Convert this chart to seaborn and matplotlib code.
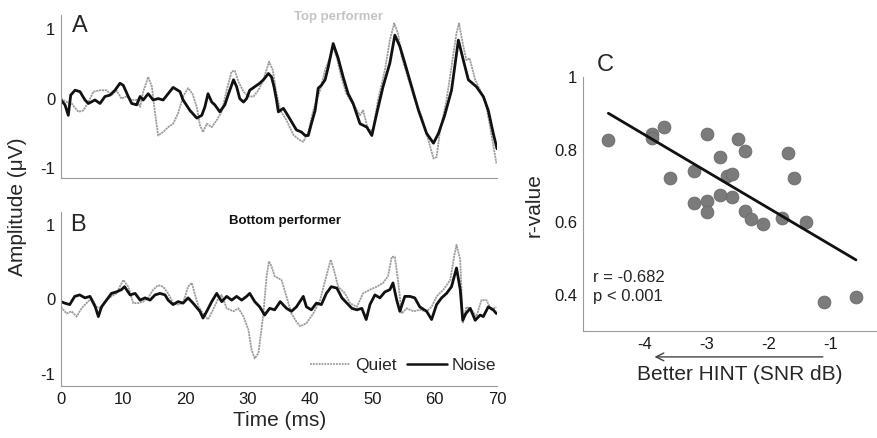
import numpy as np
import pandas as pd
import matplotlib
matplotlib.use("Agg")
import matplotlib.pyplot as plt
from matplotlib.lines import Line2D
import seaborn as sns

# ---------------- data ----------------
# Panel A (top performer) - noise (black)
a_noise_t = [0, 0.64, 1.17, 1.56, 2.25, 3.05, 3.85, 4.4, 5.46, 6.26, 7.06, 7.87, 8.67, 9.47, 10.0,
             10.8, 11.35, 12.15, 12.7, 13.2, 14.0, 14.8, 15.6, 16.4, 17.2, 18.0, 19.1, 19.6, 20.7,
             21.8, 22.6, 23.1, 23.6, 24.2, 24.7, 25.5, 26.3, 26.9, 27.7, 28.2, 28.7, 29.3, 29.8,
             30.3, 31.1, 31.9, 32.5, 33.3, 33.8, 34.2, 34.6, 34.9, 35.7, 36.2, 37.0, 37.8, 38.6,
             39.2, 39.7, 40.2, 40.8, 41.3, 41.8, 42.4, 42.9, 43.7, 44.5, 45.3, 46.1, 46.9, 48.0,
             49.1, 49.9, 50.7, 51.7, 52.8, 53.6, 54.4, 55.2, 56.3, 57.4, 58.7, 59.8, 60.6, 61.6,
             62.7, 63.8, 64.6, 65.4, 66.7, 67.8, 68.6, 69.4, 70.0]
a_noise_v = [-0.02, -0.09, -0.24, 0.05, 0.12, 0.10, -0.02, -0.07, -0.02, -0.07, 0.03, 0.05, 0.12, 0.22,
             0.19, 0.03, -0.07, -0.09, 0.03, -0.02, 0.07, -0.02, 0.0, -0.02, 0.07, 0.16, 0.10, -0.02,
             -0.17, -0.28, -0.24, -0.12, 0.07, -0.05, -0.09, -0.19, -0.09, 0.07, 0.27, 0.17, 0.0,
             -0.05, 0.0, 0.12, 0.17, 0.22, 0.27, 0.36, 0.31, 0.17, -0.02, -0.19, -0.14, -0.21, -0.33,
             -0.45, -0.48, -0.53, -0.53, -0.36, -0.17, 0.15, 0.19, 0.27, 0.45, 0.79, 0.58, 0.31,
             0.07, -0.07, -0.36, -0.41, -0.53, -0.21, 0.17, 0.51, 0.91, 0.75, 0.51, 0.17, -0.17,
             -0.50, -0.64, -0.50, -0.24, 0.12, 0.84, 0.55, 0.27, 0.17, 0.03, -0.17, -0.50, -0.72]

# Panel A - quiet (grey)
a_quiet_t = [0, 0.9, 1.7, 2.8, 3.6, 4.4, 5.2, 6.3, 7.3, 8.1, 8.9, 9.7, 10.5, 11.35, 12.15, 12.7, 13.2,
             14.0, 14.6, 15.1, 15.6, 16.4, 17.2, 18.0, 18.8, 19.6, 20.4, 21.1, 21.8, 22.3, 22.8, 23.4,
             24.2, 25.0, 25.8, 26.6, 27.4, 27.9, 28.5, 29.3, 30.1, 30.9, 31.7, 32.5, 33.4, 34.0, 34.5,
             35.2, 36.2, 37.3, 38.4, 38.9, 39.7, 40.5, 41.6, 42.4, 43.2, 43.7, 44.3, 45.0, 45.8,
             47.2, 48.0, 48.5, 49.3, 50.1, 50.9, 52.0, 52.8, 53.5, 54.1, 54.7, 55.8, 56.8, 57.9,
             59.0, 59.8, 60.3, 60.8, 61.9, 62.7, 63.5, 63.9, 64.5, 65.1, 65.6, 66.5, 67.3, 68.1,
             68.9, 69.9]
a_quiet_v = [0.0, -0.05, -0.07, -0.19, -0.17, -0.05, 0.10, 0.12, 0.12, 0.05, 0.12, 0.0, 0.03, -0.02,
             -0.02, -0.12, 0.10, 0.31, 0.17, -0.21, -0.53, -0.48, -0.41, -0.36, -0.21, 0.03, 0.15,
             0.07, -0.12, -0.38, -0.48, -0.36, -0.41, -0.31, -0.19, 0.12, 0.39, 0.40, 0.24, 0.10,
             0.03, 0.03, 0.12, 0.27, 0.53, 0.41, 0.12, -0.17, -0.31, -0.52, -0.60, -0.62, -0.48,
             -0.17, 0.12, 0.41, 0.60, 0.75, 0.58, 0.31, 0.07, -0.12, -0.24, -0.17, -0.45, -0.45,
             -0.02, 0.41, 0.84, 1.08, 0.94, 0.60, 0.27, -0.02, -0.26, -0.60, -0.86, -0.84, -0.50,
             -0.02, 0.46, 0.94, 1.08, 0.79, 0.55, 0.58, 0.27, 0.12, -0.02, -0.41, -0.93]

# Panel B (bottom performer) - noise (black)
b_noise_t = [0, 0.6, 1.4, 2.2, 3.0, 3.85, 4.65, 5.5, 6.0, 6.5, 7.3, 8.1, 8.9, 9.7, 10.2, 11.1, 11.9,
             12.7, 13.5, 14.3, 15.1, 15.9, 16.7, 17.2, 18.0, 18.8, 19.6, 20.4, 21.2, 22.3, 22.8,
             23.4, 24.2, 25.0, 25.8, 26.6, 27.4, 28.2, 29.0, 29.8, 30.3, 31.1, 31.9, 32.7, 33.5,
             34.3, 35.2, 36.2, 37.0, 37.8, 38.9, 39.4, 40.2, 41.0, 41.8, 42.6, 43.4, 44.3, 45.1,
             45.9, 46.7, 47.5, 48.3, 49.0, 49.6, 50.4, 51.2, 52.0, 52.8, 53.3, 53.9, 54.4, 55.2,
             56.0, 56.8, 57.6, 58.7, 59.5, 60.3, 61.1, 61.9, 62.7, 63.5, 64.1, 64.5, 65.0, 65.7,
             66.5, 67.3, 67.8, 68.6, 69.4, 69.9]
b_noise_v = [-0.03, -0.05, -0.07, 0.04, 0.06, 0.02, 0.04, -0.10, -0.23, -0.10, -0.01, 0.08, 0.10,
             0.13, 0.17, 0.06, 0.08, -0.01, 0.02, -0.01, 0.06, 0.08, 0.06, -0.01, -0.07, -0.03,
             -0.05, 0.02, -0.05, -0.16, -0.25, -0.16, -0.03, 0.08, -0.03, 0.04, -0.01, 0.04, -0.01,
             0.04, 0.08, -0.03, -0.10, -0.21, -0.12, -0.14, -0.03, -0.12, -0.16, -0.10, 0.04,
             -0.10, -0.14, -0.05, -0.07, 0.08, 0.17, 0.15, 0.02, -0.05, -0.12, -0.14, -0.12, -0.27,
             -0.07, 0.06, 0.02, 0.10, 0.13, 0.22, -0.01, -0.16, 0.04, 0.04, 0.02, -0.10, -0.16,
             -0.27, -0.07, 0.02, 0.08, 0.17, 0.42, 0.13, -0.28, -0.19, -0.12, -0.28, -0.21, -0.23,
             -0.10, -0.14, -0.19]

# Panel B - quiet (grey)
b_quiet_t = [0, 0.9, 1.7, 2.5, 3.3, 4.1, 4.9, 5.7, 6.5, 7.3, 8.1, 8.9, 10.0, 10.8, 11.6, 12.4, 13.2,
             14.0, 14.8, 15.6, 16.4, 17.2, 18.0, 18.8, 19.6, 20.4, 21.0, 21.6, 22.1, 22.8, 23.6,
             24.4, 25.3, 25.8, 26.6, 27.7, 28.5, 29.3, 30.1, 30.6, 31.1, 31.7, 32.5, 33.0, 33.4,
             33.8, 34.3, 35.4, 36.2, 37.0, 37.8, 38.4, 39.4, 40.5, 41.6, 42.6, 43.3, 43.8, 44.5,
             45.6, 46.4, 47.5, 48.5, 49.6, 50.7, 51.7, 52.5, 53.1, 53.6, 54.1, 54.7, 55.5, 56.6,
             57.6, 58.7, 59.5, 60.3, 61.4, 62.5, 63.1, 63.5, 64.1, 64.5, 65.1, 65.9, 66.7, 67.5,
             68.3, 69.1, 69.9]
b_quiet_v = [-0.10, -0.19, -0.16, -0.23, -0.12, -0.05, 0.02, -0.10, -0.12, -0.01, 0.04, 0.08, 0.26,
             0.17, -0.05, -0.05, -0.03, 0.02, 0.13, 0.19, 0.17, 0.08, -0.05, -0.07, -0.05, 0.17,
             0.22, 0.04, -0.10, -0.19, -0.27, -0.14, 0.02, 0.06, -0.12, -0.16, -0.12, -0.23, -0.41,
             -0.68, -0.79, -0.72, -0.19, 0.31, 0.51, 0.44, 0.31, 0.26, 0.04, -0.19, -0.30, -0.36,
             -0.32, -0.19, -0.01, 0.31, 0.53, 0.40, 0.17, 0.08, -0.05, -0.10, 0.08, 0.13, 0.17,
             0.22, 0.31, 0.57, 0.57, 0.26, -0.19, -0.12, -0.16, -0.14, -0.16, -0.10, 0.04, 0.13,
             0.26, 0.57, 0.73, 0.53, -0.32, -0.10, -0.14, -0.23, -0.01, -0.01, -0.14, -0.10]

# Panel C - scatter
hint_snr = [-4.59, -3.89, -3.89, -3.69, -3.60, -3.20, -3.20, -2.99, -2.99, -2.99, -2.79, -2.79,
            -2.68, -2.59, -2.59, -2.49, -2.39, -2.39, -2.29, -2.09, -1.79, -1.69, -1.59, -1.39,
            -1.10, -0.59]
r_value = [0.827, 0.843, 0.832, 0.862, 0.723, 0.742, 0.654, 0.843, 0.658, 0.628, 0.780, 0.674,
           0.726, 0.733, 0.670, 0.830, 0.796, 0.631, 0.610, 0.596, 0.612, 0.790, 0.723, 0.600,
           0.381, 0.395]
fit_x = [-4.59, -0.59]
fit_y = [0.900, 0.496]

time_ticks = [0, 10, 20, 30, 40, 50, 60, 70]

# ---------------- style ----------------
sns.set_style("white")
plt.rcParams['font.family'] = ['Liberation Sans', 'DejaVu Sans']
plt.rcParams['axes.edgecolor'] = '#9a9a9a'
plt.rcParams['xtick.color'] = '#9a9a9a'
plt.rcParams['ytick.color'] = '#9a9a9a'
plt.rcParams['xtick.labelcolor'] = '#1a1a1a'
plt.rcParams['ytick.labelcolor'] = '#1a1a1a'

QUIET_C = '#9d9d9d'
NOISE_C = '#111111'
quiet_ls = (0, (1.2, 0.4))

fig = plt.figure(figsize=(8.77, 4.38), dpi=100)
W, H = 877.0, 438.0

def frac_box(l, t, r, b):
    return [l / W, 1 - b / H, (r - l) / W, (b - t) / H]

axA = fig.add_axes(frac_box(61, 15, 497, 178))
axB = fig.add_axes(frac_box(61, 212, 497, 386))
axC = fig.add_axes(frac_box(583, 77, 877, 331))

def wave(ax, qt, qv, nt, nv):
    sns.lineplot(x=qt, y=qv, ax=ax, color=QUIET_C, lw=1.3, linestyle=quiet_ls, sort=False)
    sns.lineplot(x=nt, y=nv, ax=ax, color=NOISE_C, lw=2.0, sort=False)
    ax.set_xlim(0, 70)
    ax.set_yticks([-1, 0, 1])
    ax.set_yticklabels(['-1', '0', '1'])
    for s in ['top', 'right']:
        ax.spines[s].set_visible(False)
    ax.tick_params(direction='in', length=4, width=0.8, labelsize=12, pad=4)
    ax.set_xlabel('')
    ax.set_ylabel('')

wave(axA, a_quiet_t, a_quiet_v, a_noise_t, a_noise_v)
axA.set_ylim(-1.14, 1.20)
axA.set_xticks([])

wave(axB, b_quiet_t, b_quiet_v, b_noise_t, b_noise_v)
axB.set_ylim(-1.16, 1.17)
axB.set_xticks(time_ticks)
axB.set_xticklabels([str(t) for t in time_ticks])

axA.text(72 / W, 1 - 26 / H, 'A', transform=fig.transFigure, fontsize=17, va='center', ha='left')
axB.text(70 / W, 1 - 225 / H, 'B', transform=fig.transFigure, fontsize=17, va='center', ha='left')
fig.text(338 / W, 1 - 17 / H, 'Top performer', color='#c4c4c4', fontsize=9.5,
         fontweight='bold', ha='center', va='center')
fig.text(285 / W, 1 - 221 / H, 'Bottom performer', color='#111111', fontsize=9.5,
         fontweight='bold', ha='center', va='center')

leg_handles = [Line2D([0], [0], color=QUIET_C, lw=1.3, linestyle=(0, (1, 0.6))),
               Line2D([0], [0], color=NOISE_C, lw=1.8)]
axB.legend(leg_handles, ['Quiet', 'Noise'], loc='center right', ncol=2, frameon=False,
           fontsize=12.5, handlelength=2.3, handletextpad=0.3, columnspacing=0.6,
           bbox_to_anchor=(1.015, 0.12), borderaxespad=0)

fig.text(18 / W, 1 - 207 / H, 'Amplitude (\u03bcV)', rotation=90, fontsize=15,
         ha='center', va='center')
fig.text(280 / W, 1 - 420 / H, 'Time (ms)', fontsize=15, ha='center', va='center')

# Panel C
sns.scatterplot(x=hint_snr, y=r_value, ax=axC, s=85, color='#7b7b7b', edgecolor='#6a6a6a',
                linewidth=0.6, zorder=3)
sns.lineplot(x=fit_x, y=fit_y, ax=axC, color='#111111', lw=2.0, zorder=4)
axC.set_xlim(-5.0, -0.25)
axC.set_ylim(0.3, 1.0)
axC.set_xticks([-4, -3, -2, -1])
axC.set_xticklabels(['-4', '-3', '-2', '-1'])
axC.set_yticks([0.4, 0.6, 0.8, 1.0])
axC.set_yticklabels(['0.4', '0.6', '0.8', '1'])
for s in ['top', 'right']:
    axC.spines[s].set_visible(False)
axC.tick_params(direction='in', length=4, width=0.8, labelsize=12, pad=4)
axC.set_xlabel('')
axC.set_ylabel('')
fig.text(605 / W, 1 - 65 / H, 'C', fontsize=17, ha='center', va='center')
fig.text(534 / W, 1 - 205 / H, 'r-value', rotation=90, fontsize=15, ha='center', va='center')
axC.text(593 / W, 1 - 277 / H, 'r = -0.682', transform=fig.transFigure, fontsize=12,
         ha='left', va='center')
axC.text(593 / W, 1 - 297 / H, 'p < 0.001', transform=fig.transFigure, fontsize=12,
         ha='left', va='center')
axC.annotate('', xy=(-3.89, -0.102), xycoords=('data', 'axes fraction'),
             xytext=(-1.08, -0.102), textcoords=('data', 'axes fraction'),
             arrowprops=dict(arrowstyle='->', color='#444444', lw=1.0, mutation_scale=14),
             annotation_clip=False)
fig.text(740 / W, 1 - 374 / H, 'Better HINT (SNR dB)', fontsize=15, ha='center', va='center')

fig.savefig('out.png', dpi=100)
